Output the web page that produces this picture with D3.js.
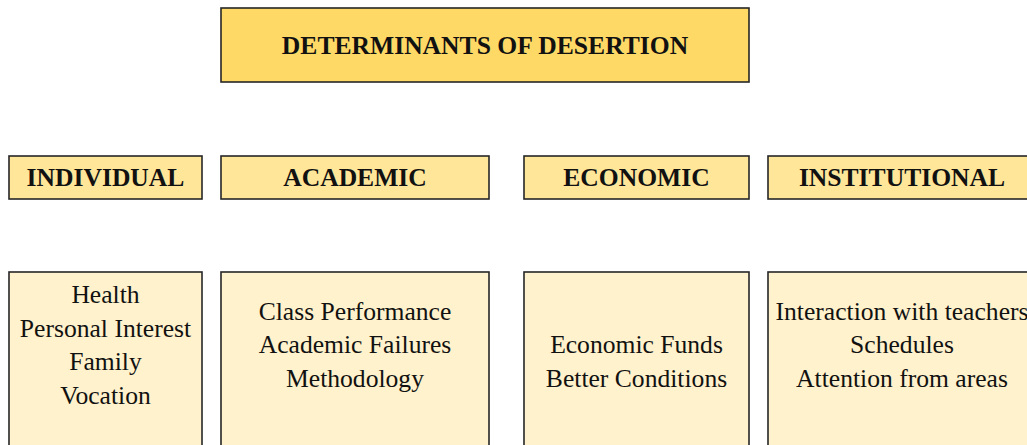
<!DOCTYPE html>
<html lang="en">
<head>
    <meta charset="UTF-8">
    <title>Determinants of Desertion</title>
    <script src="https://d3js.org/d3.v7.min.js"></script>
    <style>
        body {
            margin: 0;
            background: #ffffff;
        }
    </style>
</head>
<body>
    <svg id="chart" width="1027" height="445"></svg>

    <script>
        // chart content
        const title = "DETERMINANTS OF DESERTION";
        const categories = ["INDIVIDUAL", "ACADEMIC", "ECONOMIC", "INSTITUTIONAL"];
        const individualItems = ["Health", "Personal Interest", "Family", "Vocation"];
        const academicItems = ["Class Performance", "Academic Failures", "Methodology"];
        const economicItems = ["", "Economic Funds", "Better Conditions"];
        const institutionalItems = ["Interaction with teachers", "Schedules", "Attention from areas"];
        const itemLists = [individualItems, academicItems, economicItems, institutionalItems];

        // layout
        const columns = [[9, 202], [221, 489], [524, 749], [768, 1036]];
        const titleBox = { x0: 221, x1: 749, y0: 8, y1: 82 };
        const catRow = { y0: 156, y1: 199 };
        const itemRow = { y0: 272, y1: 470, textCenter: 344.5 };
        const fontSize = 25.6;
        const lineGap = 33.5;

        const svg = d3.select("#chart");

        function box(g, x0, x1, y0, y1, fill) {
            g.append("rect")
                .attr("x", x0)
                .attr("y", y0)
                .attr("width", x1 - x0)
                .attr("height", y1 - y0)
                .attr("fill", fill)
                .attr("stroke", "#262626")
                .attr("stroke-width", 1.6);
        }

        function label(g, x, y, text, bold) {
            g.append("text")
                .attr("x", x)
                .attr("y", y)
                .attr("text-anchor", "middle")
                .attr("font-family", "Liberation Serif")
                .attr("font-size", fontSize)
                .attr("font-weight", bold ? "bold" : "normal")
                .attr("fill", "#111")
                .text(text);
        }

        // title
        const tg = svg.append("g");
        box(tg, titleBox.x0, titleBox.x1, titleBox.y0, titleBox.y1, "#FFD966");
        label(tg, (titleBox.x0 + titleBox.x1) / 2,
            (titleBox.y0 + titleBox.y1) / 2 + fontSize * 0.35, title, true);

        // category headers
        categories.forEach((c, i) => {
            const g = svg.append("g");
            const [x0, x1] = columns[i];
            box(g, x0, x1, catRow.y0, catRow.y1, "#FFE699");
            label(g, (x0 + x1) / 2, (catRow.y0 + catRow.y1) / 2 + fontSize * 0.35, c, true);
        });

        // item boxes
        itemLists.forEach((items, i) => {
            const g = svg.append("g");
            const [x0, x1] = columns[i];
            box(g, x0, x1, itemRow.y0, itemRow.y1, "#FFF2CC");
            const startY = itemRow.textCenter - (items.length - 1) * lineGap / 2;
            items.forEach((t, j) => {
                label(g, (x0 + x1) / 2, startY + j * lineGap + fontSize * 0.35, t, false);
            });
        });
    </script>
</body>
</html>
